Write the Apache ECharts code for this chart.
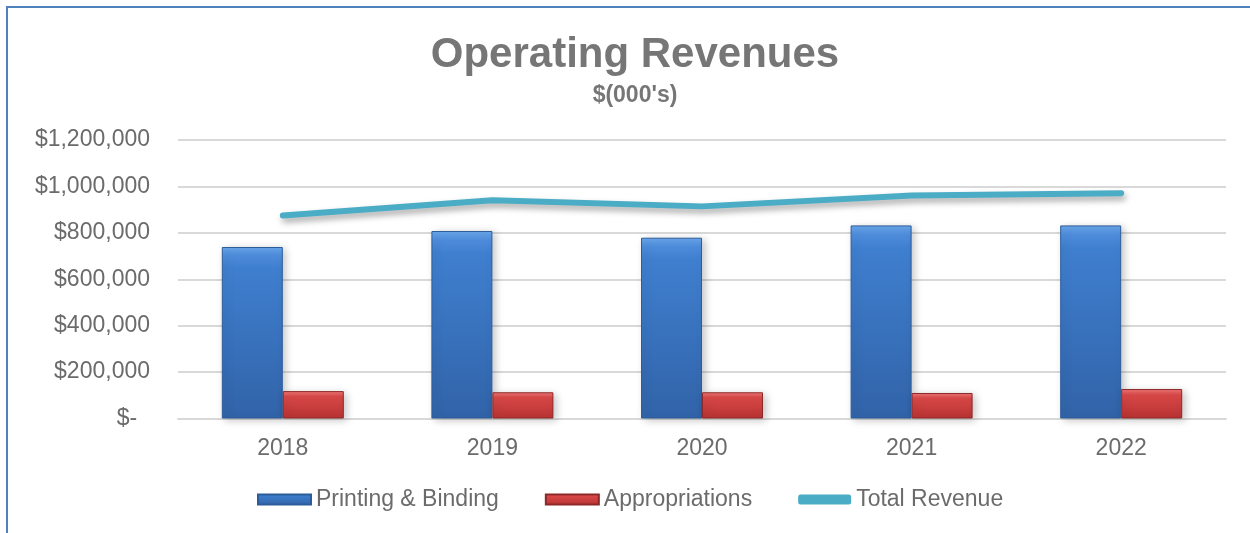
<!DOCTYPE html>
<html>
<head>
<meta charset="utf-8">
<script src="https://cdn.jsdelivr.net/npm/echarts@6/dist/echarts.min.js"></script>
<style>
  html, body { margin: 0; padding: 0; background: #fff; }
  #main { width: 1250px; height: 533px; }
  #frame {
    position: absolute; left: 6px; top: 6px; width: 1260px; height: 560px;
    border-left: 2px solid #4f81bd; border-top: 2px solid #4f81bd;
    pointer-events: none;
  }
</style>
</head>
<body>
<div id="main"></div>
<div id="frame"></div>
<script>
// data
var years = ['2018', '2019', '2020', '2021', '2022'];
var printingBinding = [739000, 808000, 779000, 832000, 832000];
var appropriations = [118000, 113000, 113000, 110000, 127000];
var totalRevenue = [875000, 940000, 914000, 961000, 971000];
var yTicks = { min: 0, max: 1200000, step: 200000 };

var labelColor = '#6b6b6b';
var font = 'Arial, "Liberation Sans", sans-serif';

var blueFill = new echarts.graphic.LinearGradient(0, 0, 0, 1, [
  { offset: 0, color: '#6aa8ec' },
  { offset: 0.05, color: '#4e8cdb' },
  { offset: 0.12, color: '#3f7fcf' },
  { offset: 1, color: '#3163a8' }
]);
var redFill = new echarts.graphic.LinearGradient(0, 0, 0, 1, [
  { offset: 0, color: '#f07878' },
  { offset: 0.2, color: '#d84848' },
  { offset: 1, color: '#b83232' }
]);

var myChart = echarts.init(document.getElementById('main'));

var option = {
  animation: false,
  title: [
    {
      text: 'Operating Revenues',
      left: 630, top: 29, textAlign: 'center',
      textStyle: { fontFamily: font, fontSize: 42, fontWeight: 'bold', color: '#767676' }
    },
    {
      text: "$(000's)",
      left: 630, top: 79, textAlign: 'center',
      textStyle: { fontFamily: font, fontSize: 23, fontWeight: 'bold', color: '#767676' }
    }
  ],
  legend: {
    left: 252, top: 483,
    itemWidth: 53, itemHeight: 10, itemGap: 46,
    textStyle: { fontFamily: font, fontSize: 23, color: labelColor },
    data: [
      { name: 'Printing & Binding', icon: 'rect' },
      { name: 'Appropriations', icon: 'rect' },
      { name: 'Total Revenue', icon: 'roundRect' }
    ]
  },
  grid: { left: 178, right: 24, top: 140, bottom: 114.5 },
  xAxis: {
    type: 'category',
    data: years,
    axisTick: { show: false },
    axisLine: { lineStyle: { color: '#d9d9d9', width: 2 } },
    axisLabel: { margin: 19, fontFamily: font, fontSize: 23, color: labelColor }
  },
  yAxis: {
    type: 'value',
    min: yTicks.min, max: yTicks.max, interval: yTicks.step,
    axisLine: { show: false },
    axisTick: { show: false },
    splitLine: { lineStyle: { color: '#d9d9d9', width: 2 } },
    axisLabel: {
      margin: 28, fontFamily: font, fontSize: 23, color: labelColor,
      formatter: function (v) {
        if (v === 0) return '$-  ';
        return '$' + v.toLocaleString('en-US');
      }
    }
  },
  series: [
    {
      name: 'Printing & Binding',
      type: 'bar',
      data: printingBinding,
      barWidth: 61,
      barGap: '0%',
      itemStyle: {
        color: blueFill,
        borderColor: '#2d5c9a', borderWidth: 1,
        shadowBlur: 8, shadowColor: 'rgba(0,0,0,0.22)', shadowOffsetX: 3, shadowOffsetY: 2
      }
    },
    {
      name: 'Appropriations',
      type: 'bar',
      data: appropriations,
      barWidth: 61,
      barGap: '0%',
      itemStyle: {
        color: redFill,
        borderColor: '#8e2828', borderWidth: 1,
        shadowBlur: 8, shadowColor: 'rgba(0,0,0,0.22)', shadowOffsetX: 3, shadowOffsetY: 2
      }
    },
    {
      name: 'Total Revenue',
      type: 'line',
      data: totalRevenue,
      showSymbol: false,
      symbol: 'none',
      itemStyle: { color: '#4bacc6' },
      lineStyle: {
        color: '#4bacc6', width: 6, cap: 'round', join: 'round',
        shadowBlur: 6, shadowColor: 'rgba(0,0,0,0.35)', shadowOffsetX: 2, shadowOffsetY: 4
      },
      z: 3
    }
  ]
};

myChart.setOption(option);
</script>
</body>
</html>
